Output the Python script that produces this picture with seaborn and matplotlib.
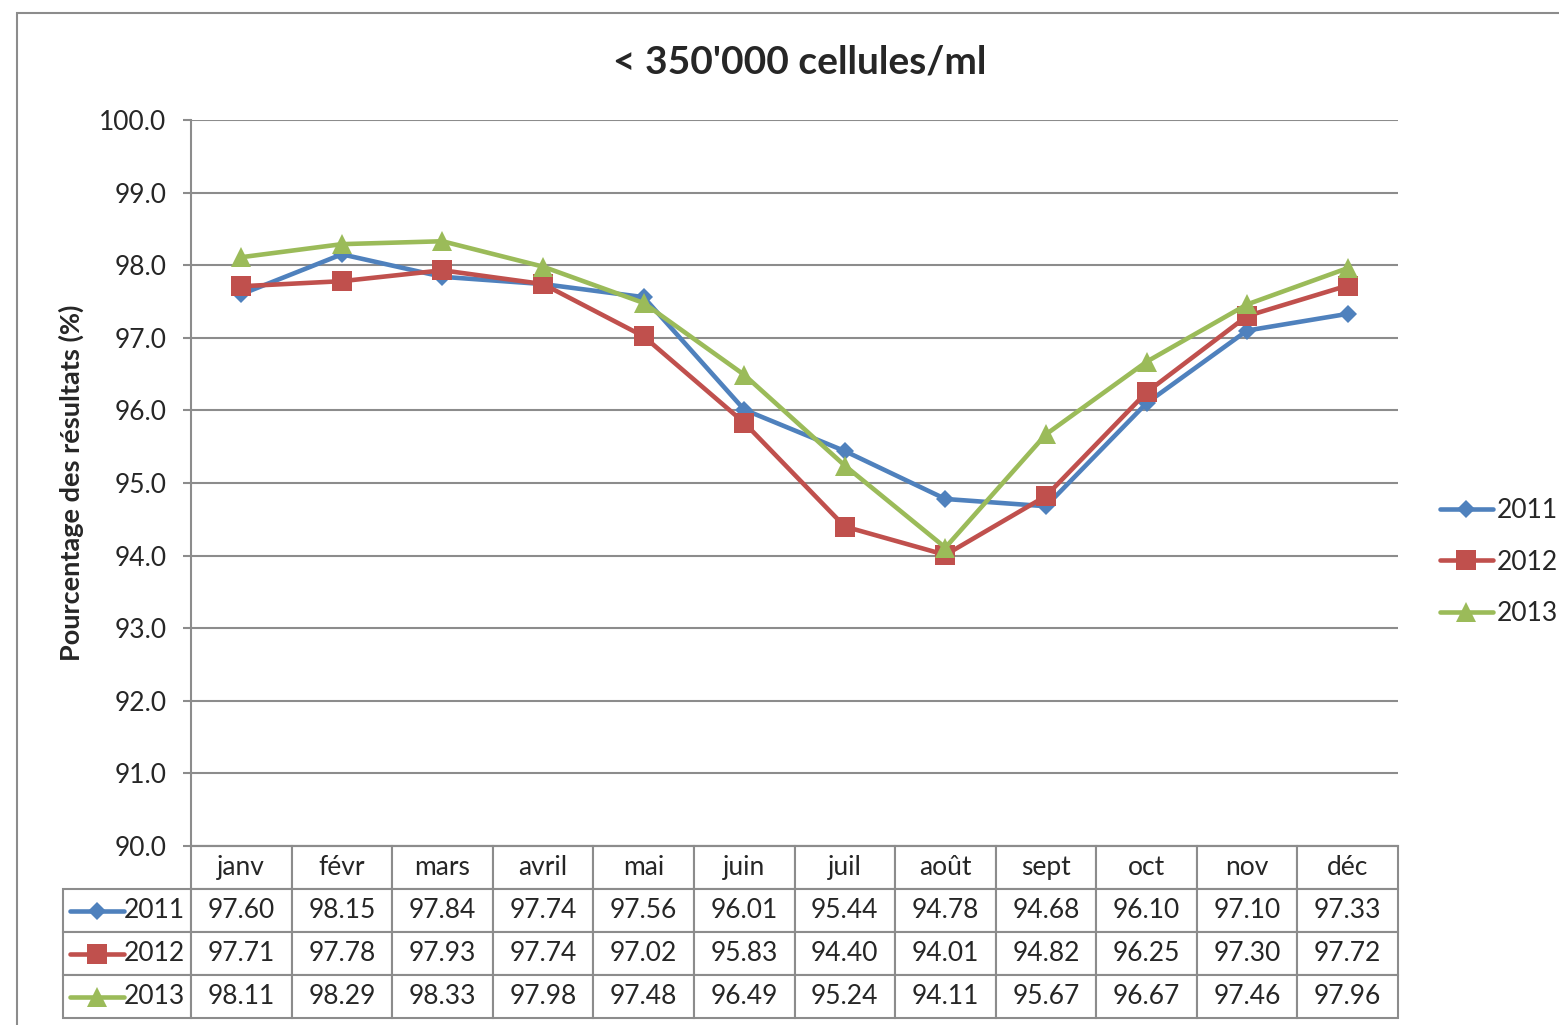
import matplotlib

matplotlib.use("Agg")
import matplotlib.pyplot as plt
import numpy as np
import pandas as pd
import seaborn as sns
from matplotlib.lines import Line2D
from matplotlib.patches import Rectangle
from matplotlib.table import Table

# ---- donnees (lues dans le tableau du graphique) ----
MOIS = ["janv", "févr", "mars", "avril", "mai", "juin",
        "juil", "août", "sept", "oct", "nov", "déc"]
ANNEES = ["2011", "2012", "2013"]
V2011 = [97.60, 98.15, 97.84, 97.74, 97.56, 96.01, 95.44, 94.78, 94.68, 96.10, 97.10, 97.33]
V2012 = [97.71, 97.78, 97.93, 97.74, 97.02, 95.83, 94.40, 94.01, 94.82, 96.25, 97.30, 97.72]
V2013 = [98.11, 98.29, 98.33, 97.98, 97.48, 96.49, 95.24, 94.11, 95.67, 96.67, 97.46, 97.96]
Y_TICKS = [90, 91, 92, 93, 94, 95, 96, 97, 98, 99, 100]

COULEURS = {"2011": "#4F81BD", "2012": "#C0504D", "2013": "#9BBB59"}
MARQUEURS = {"2011": "D", "2012": "s", "2013": "^"}
TAILLES = {"2011": 9.5, "2012": 14, "2013": 14}
GRIS = "#8c8c8c"
POLICE = ["Lato", "DejaVu Sans"]
TAILLE_TEXTE = 19

sns.set_theme(style="white")
plt.rcParams["font.family"] = POLICE

W, H = 1559, 1025


def fx(px):
    return px / W


def fy(py):
    return 1 - py / H


df = pd.DataFrame({
    "pos": np.tile(np.arange(len(MOIS)), 3),
    "val": V2011 + V2012 + V2013,
    "annee": np.repeat(ANNEES, len(MOIS)),
})

fig = plt.figure(figsize=(W / 100, H / 100), dpi=100)
fig.patch.set_facecolor("white")
fig.add_artist(Rectangle((fx(17), fy(1040)), fx(1570) - fx(17), fy(13) - fy(1040),
                         transform=fig.transFigure, fill=False, edgecolor=GRIS, lw=1.5))

L, R, T, B = 191, 1398, 120, 846
ax = fig.add_axes([fx(L), fy(B), fx(R) - fx(L), fy(T) - fy(B)])

for an in ANNEES:
    d = df[df.annee == an]
    sns.lineplot(data=d, x="pos", y="val", ax=ax, color=COULEURS[an],
                 marker=MARQUEURS[an], markersize=TAILLES[an], markeredgewidth=0,
                 linewidth=3.3, legend=False, zorder=3)

ax.set_xlim(-0.5, len(MOIS) - 0.5)
ax.set_ylim(90, 100)
ax.set_yticks(Y_TICKS)
ax.set_yticklabels([f"{v:.1f}" for v in Y_TICKS], fontsize=TAILLE_TEXTE)
ax.set_xticks([])
ax.set_xlabel("")
ax.set_ylabel("Pourcentage des résultats (%)", fontsize=19.5, fontweight="bold")
ax.yaxis.set_label_coords((84 - L) / (R - L), 0.5)
ax.grid(axis="y", color=GRIS, lw=1.5)
ax.tick_params(axis="y", length=5.8, width=1.5, color=GRIS, pad=12, left=True)
for s in ["top", "right"]:
    ax.spines[s].set_visible(False)
for s in ["left", "bottom"]:
    ax.spines[s].set_color(GRIS)
    ax.spines[s].set_linewidth(1.5)

fig.text(fx(800), fy(62), "< 350'000 cellules/ml", ha="center", va="center",
         fontsize=28, fontweight="bold")

# ---- tableau de donnees ----
largeur, hauteur = R - L, B - T
lc = 1.0 / len(MOIS)
hr = (1018 - B) / 4 / hauteur
lrl = (L - 63) / largeur
# le bbox ne couvre que la grille des valeurs, les etiquettes de lignes debordent a gauche
tab = Table(ax, bbox=[0, -4 * hr, 1, 4 * hr])
for j, m in enumerate(MOIS):
    tab.add_cell(0, j, lc, hr, text=m, loc="center")
for i, (an, vals) in enumerate(zip(ANNEES, [V2011, V2012, V2013]), start=1):
    c = tab.add_cell(i, -1, lrl, hr, text=an, loc="right")
    c.PAD = 0.05
    for j, v in enumerate(vals):
        tab.add_cell(i, j, lc, hr, text=f"{v:.2f}", loc="center")
tab.auto_set_font_size(False)
tab.set_fontsize(TAILLE_TEXTE)
for cell in tab.get_celld().values():
    cell.set_edgecolor(GRIS)
    cell.set_linewidth(1.5)
    cell.get_text().set_fontfamily(POLICE)
ax.add_table(tab)
tab.set_clip_on(False)

# marqueurs de legende dans les etiquettes de lignes
for an, yc in zip(ANNEES, [911, 954, 997]):
    fig.add_artist(Line2D([fx(70), fx(97), fx(124)], [fy(yc)] * 3, transform=fig.transFigure,
                          color=COULEURS[an], lw=3.3, marker=MARQUEURS[an], markevery=[1],
                          markersize=TAILLES[an], markeredgewidth=0, solid_capstyle="round"))

# ---- legende ----
poignees = [Line2D([0], [0], color=COULEURS[an], lw=3.3, marker=MARQUEURS[an],
                   markersize=TAILLES[an], markeredgewidth=0, solid_capstyle="round")
            for an in ANNEES]
fig.legend(poignees, ANNEES, loc="center left", bbox_to_anchor=(fx(1416), fy(562)),
           frameon=False, fontsize=TAILLE_TEXTE, handlelength=2.0, handletextpad=0.15,
           labelspacing=1.0)

fig.savefig("out.png", dpi=100)
